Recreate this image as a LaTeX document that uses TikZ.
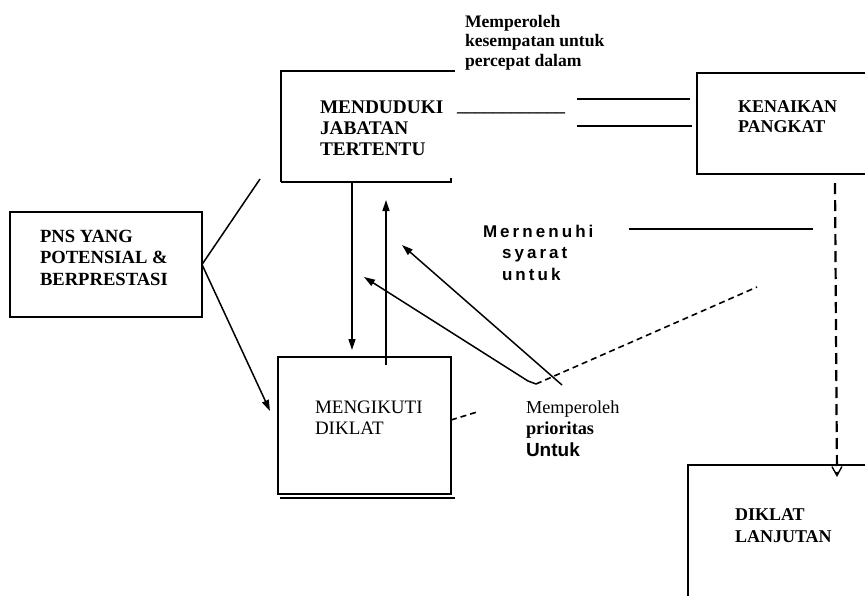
\documentclass[tikz,border=0pt]{standalone}
\usepackage{fontspec}
\setmainfont{Liberation Serif}
\newfontfamily\arialfont{Liberation Sans}
\newfontfamily\spacedfont[LetterSpace=18]{Liberation Sans}
\usetikzlibrary{arrows.meta}
\tikzset{
  frame/.style={line width=1.8pt},
  thinframe/.style={line width=1.4pt},
  conn/.style={line width=1.5pt},
  arr/.style={conn,-{Triangle[length=11pt,width=7pt]}},
  shortdash/.style={line width=1.6pt,dash pattern=on 6pt off 4pt},
  longdash/.style={line width=2.2pt,dash pattern=on 11pt off 6pt},
  barb/.style={-{Straight Barb[length=9pt,width=10pt,line width=1.4pt]}},
  lbl/.style={anchor=base west,inner sep=0pt,outer sep=0pt,font=\fontsize{18}{21.5}\selectfont\bfseries},
  boxnode/.style={draw,frame,anchor=north west,inner sep=0pt,outer sep=0pt}
}
\begin{document}
\begin{tikzpicture}[x=1pt,y=-1pt]
\useasboundingbox (0,0) rectangle (865,595);

% ---- boxes ----
\node[boxnode,minimum width=192pt,minimum height=105pt] (pns) at (10,212) {};
\node[boxnode,minimum width=173pt,minimum height=137pt] (mik) at (278,357) {};
\coordinate (mikshA) at (280,498);
\coordinate (mikshB) at (455,498);
\draw[thinframe] (mikshA) -- (mikshB);

% MENDUDUKI open box
\coordinate (mdTR) at (455,71);
\coordinate (mdTL) at (281,71);
\coordinate (mdBL) at (281,182);
\coordinate (mdBR) at (451,182);
\coordinate (mdBRt) at (451,178);
\draw[frame] (mdTR) -- (mdTL) -- (mdBL);
\draw[thinframe] (mdBL) -- (mdBR) -- (mdBRt);

% KENAIKAN open box
\coordinate (kpTR) at (866,73);
\coordinate (kpTL) at (697,73);
\coordinate (kpBL) at (697,174);
\coordinate (kpBR) at (866,174);
\draw[frame] (kpTR) -- (kpTL) -- (kpBL) -- (kpBR);

% DIKLAT LANJUTAN open box
\coordinate (dlTR) at (866,465);
\coordinate (dlTL) at (688,465);
\coordinate (dlBL) at (688,596);
\draw[frame] (dlTR) -- (dlTL) -- (dlBL);

% ---- labels ----
\node[lbl,font=\fontsize{19.3}{21}\selectfont\bfseries] (mendtxt) at (320,113) {\begin{tabular}[t]{@{}l@{}}MENDUDUKI\\JABATAN\\TERTENTU\end{tabular}};
\node[lbl] (unders) at (457,111) {\_\_\_\_\_\_\_\_\_\_\_\_};
\node[lbl] (kptxt) at (738,112) {\fontsize{18}{20}\selectfont\begin{tabular}[t]{@{}l@{}}KENAIKAN\\PANGKAT\end{tabular}};
\node[lbl,font=\fontsize{18.6}{21.5}\selectfont\bfseries] (pnstxt) at (40,242) {\begin{tabular}[t]{@{}l@{}}PNS YANG\\POTENSIAL \&\\BERPRESTASI\end{tabular}};
\node[lbl,font=\fontsize{19}{21}\selectfont\mdseries] (miktxt) at (315,413) {\begin{tabular}[t]{@{}l@{}}MENGIKUTI\\DIKLAT\end{tabular}};
\node[lbl,font=\fontsize{18}{22.5}\selectfont\bfseries] (dltxt) at (735,520) {\begin{tabular}[t]{@{}l@{}}DIKLAT\\LANJUTAN\end{tabular}};
\node[lbl,font=\fontsize{17.6}{19.5}\selectfont\bfseries] (kesem) at (465,27) {\begin{tabular}[t]{@{}l@{}}Memperoleh\\kesempatan untuk\\percepat dalam\end{tabular}};
\node[lbl,font=\fontsize{17}{21.5}\selectfont\spacedfont\bfseries] (syarat) at (483,237) {\begin{tabular}[t]{@{}l@{}}Mernenuhi\\\hspace*{19pt}syarat\\\hspace*{19pt}untuk\end{tabular}};
\node[lbl,font=\fontsize{18.3}{21.5}\selectfont] (prio) at (526,413) {\begin{tabular}[t]{@{}l@{}}{\mdseries Memperoleh}\\{\bfseries prioritas}\\{\arialfont\bfseries\fontsize{19}{21.5}\selectfont Untuk}\end{tabular}};

% ---- connectors ----
\coordinate (pnsTop) at (260,179);
\coordinate (mikIn) at (270,411);
\draw[conn] (pns.east) -- (pnsTop);
\draw[arr] (pns.east) -- (mikIn);

\coordinate (downS) at (352,182);
\coordinate (downE) at (352,350);
\draw[arr] (downS) -- (downE);
\coordinate (upS) at (386,365);
\coordinate (upE) at (386,200);
\draw[arr] (upS) -- (upE);

\coordinate (aS) at (562,385);
\coordinate (aE) at (402,245);
\draw[arr] (aS) -- (aE);
\coordinate (bS) at (536,384);
\coordinate (bK) at (528,381);
\coordinate (bE) at (364,277);
\draw[arr] (bS) -- (bK) -- (bE);

\coordinate (dsS) at (536,384);
\coordinate (dsE) at (757,287);
\draw[shortdash] (dsS) -- (dsE);
\coordinate (smS) at (451,420);
\coordinate (smE) at (477,412);
\draw[shortdash] (smS) -- (smE);

\coordinate (l1S) at (577,99);
\coordinate (l1E) at (690,99);
\coordinate (l2S) at (577,126);
\coordinate (l2E) at (692,126);
\draw[conn] (l1S) -- (l1E);
\draw[conn] (l2S) -- (l2E);

\coordinate (mnS) at (629,229);
\coordinate (mnE) at (813,229);
\draw[conn] (mnS) -- (mnE);

\coordinate (vdS) at (835,183);
\coordinate (vdE) at (837,477);
\draw[longdash,barb] (vdS) -- (vdE);
\end{tikzpicture}
\end{document}
